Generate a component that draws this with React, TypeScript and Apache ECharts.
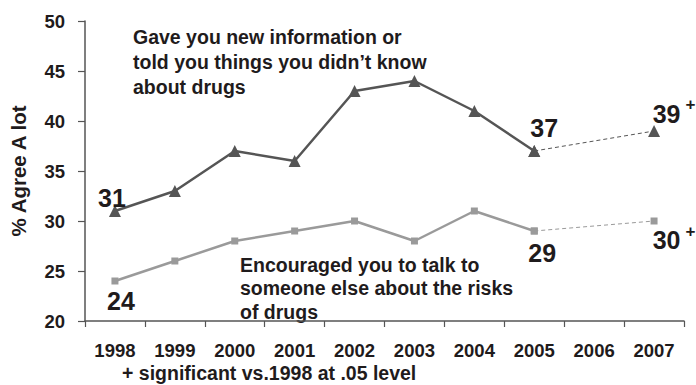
import React, { useEffect, useRef } from "react";
import * as echarts from "echarts";

const years = ["1998", "1999", "2000", "2001", "2002", "2003", "2004", "2005", "2006", "2007"];
// "Gave you new information" survey line (1998–2005 measured, 2007 after a gap)
const infoSolid = [31, 33, 37, 36, 43, 44, 41, 37, null, null];
const infoGap = [null, null, null, null, null, null, null, 37, null, 39];
// "Encouraged you to talk to someone" survey line
const talkSolid = [24, 26, 28, 29, 30, 28, 31, 29, null, null];
const talkGap = [null, null, null, null, null, null, null, 29, null, 30];
// Points that carry a printed value; "sig" marks significance vs. 1998
const infoSolidLabels = [
  { idx: 0, pos: "top", offset: [-3, 11], sig: false },
  { idx: 7, pos: "top", offset: [10, 1], sig: false },
];
const infoGapLabels = [{ idx: 9, pos: "top", offset: [20, 2], sig: true }];
const talkSolidLabels = [
  { idx: 0, pos: "bottom", offset: [6, -2], sig: false },
  { idx: 7, pos: "bottom", offset: [8, 0], sig: false },
];
const talkGapLabels = [{ idx: 9, pos: "bottom", offset: [20, -7], sig: true }];

const FONT = "Arial, 'Liberation Sans', sans-serif";
const INK = "#1f1b1c";
const DARK = "#555555";
const LIGHT = "#9a9a9a";

type LabelSpec = { idx: number; pos: string; offset: number[]; sig: boolean };

const digitStyle = { fontSize: 25, fontWeight: "bold", fontFamily: FONT, color: INK, lineHeight: 26 };

function withLabels(values: (number | null)[], labels: LabelSpec[]) {
  return values.map((v, i) => {
    const l = labels.find((x) => x.idx === i);
    if (v == null || !l) return v;
    return {
      value: v,
      label: {
        show: true,
        position: l.pos,
        offset: l.offset,
        formatter: l.sig ? "{d|" + v + "}{s|+}" : "{v|" + v + "}",
        rich: {
          v: digitStyle,
          // digits pushed down inside the line so the "+" can sit at its top
          d: { ...digitStyle, padding: [9, 0, 0, 0] },
          s: { fontSize: 17, fontWeight: "bold", fontFamily: FONT, color: INK, lineHeight: 17, verticalAlign: "top", padding: [0, 0, 0, 5] },
        },
      },
    };
  });
}

export default function App() {
  const ref = useRef<HTMLDivElement>(null);
  useEffect(() => {
    if (!ref.current) return;
    const chart = echarts.init(ref.current, undefined, { renderer: "svg" });
    const axisText = { fontSize: 18.5, fontWeight: "bold" as const, fontFamily: FONT, color: INK };
    const noteStyle = { font: "bold 19.5px " + FONT, fill: INK, verticalAlign: "top" as const };
    chart.setOption({
      animation: false,
      backgroundColor: "#ffffff",
      grid: { left: 83, right: 12, top: 21, bottom: 64 },
      xAxis: {
        type: "category",
        data: years,
        boundaryGap: true,
        axisLine: { lineStyle: { color: "#555555", width: 1.5 } },
        axisTick: { show: true, length: 6, lineStyle: { color: "#555555", width: 1.2 } },
        axisLabel: { ...axisText, margin: 20 },
      },
      yAxis: {
        type: "value",
        min: 20,
        max: 50,
        interval: 5,
        name: "% Agree A lot",
        nameLocation: "middle",
        nameRotate: 90,
        nameGap: 56,
        nameTextStyle: { fontSize: 20.5, fontWeight: "bold", fontFamily: FONT, color: INK },
        axisLine: { show: true, lineStyle: { color: "#555555", width: 1.5 } },
        axisTick: { show: true, length: 7, lineStyle: { color: "#555555", width: 1.2 } },
        axisLabel: { ...axisText, margin: 20 },
        splitLine: { show: false },
      },
      series: [
        {
          type: "line",
          data: withLabels(talkSolid, talkSolidLabels),
          symbol: "rect",
          symbolSize: 7,
          lineStyle: { color: LIGHT, width: 2.5 },
          itemStyle: { color: LIGHT },
          z: 2,
        },
        {
          type: "line",
          data: withLabels(talkGap, talkGapLabels),
          connectNulls: true,
          symbol: "rect",
          symbolSize: 7,
          lineStyle: { color: LIGHT, width: 1, type: [4, 3] },
          itemStyle: { color: LIGHT },
          z: 1,
        },
        {
          type: "line",
          data: withLabels(infoSolid, infoSolidLabels),
          symbol: "triangle",
          symbolSize: 12,
          lineStyle: { color: DARK, width: 2.5 },
          itemStyle: { color: DARK },
          z: 4,
        },
        {
          type: "line",
          data: withLabels(infoGap, infoGapLabels),
          connectNulls: true,
          symbol: "triangle",
          symbolSize: 12,
          lineStyle: { color: DARK, width: 1, type: [4, 3] },
          itemStyle: { color: DARK },
          z: 3,
        },
      ],
      graphic: [
        {
          type: "text",
          x: 133,
          y: 24,
          style: {
            ...noteStyle,
            text: "Gave you new information or\ntold you things you didn\u2019t know\nabout drugs",
            lineHeight: 25,
          },
        },
        {
          type: "text",
          x: 240,
          y: 253,
          style: {
            ...noteStyle,
            text: "Encouraged you to talk to\nsomeone else about the risks\nof drugs",
            lineHeight: 23.5,
          },
        },
        {
          type: "text",
          x: 122,
          y: 363,
          style: { ...noteStyle, text: "+ significant vs.1998 at .05 level" },
        },
      ],
    });
    return () => chart.dispose();
  }, []);
  return (
    <div
      ref={ref}
      style={{ position: "fixed", left: 0, top: 0, width: 696, height: 385, background: "#fff" }}
    />
  );
}
